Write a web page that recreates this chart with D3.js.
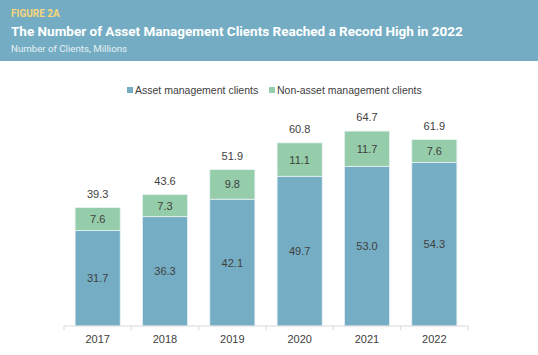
<!DOCTYPE html>
<html><head><meta charset="utf-8">
<script src="https://cdn.jsdelivr.net/npm/d3@7"></script>
<style>body{margin:0;background:#fff}svg{display:block}</style>
</head><body>
<svg id="c" width="538" height="355"></svg>
<script>
const years = ["2017","2018","2019","2020","2021","2022"];
const assetMgmt = [31.7, 36.3, 42.1, 49.7, 53.0, 54.3];
const nonAssetMgmt = [7.6, 7.3, 9.8, 11.1, 11.7, 7.6];
const totals = [39.3, 43.6, 51.9, 60.8, 64.7, 61.9];
const seriesNames = ["Asset management clients", "Non-asset management clients"];
const colors = ["#75aec4", "#95cca9"];

const svg = d3.select("#c");
// header band
svg.append("rect").attr("x",0).attr("y",0).attr("width",538).attr("height",61).attr("fill","#74adc3");
svg.append("text").attr("x",11).attr("y",17).attr("fill","#f6d67a").attr("font-family","Roboto").attr("font-weight","bold").attr("font-size",10).text("FIGURE 2A");
svg.append("text").attr("x",11).attr("y",35.5).attr("fill","#ffffff").attr("font-family","Roboto").attr("font-weight","bold").attr("font-size",13.5).text("The Number of Asset Management Clients Reached a Record High in 2022");
svg.append("text").attr("x",11).attr("y",51.5).attr("fill","#e6f0f4").attr("font-family","Roboto").attr("font-size",9.7).text("Number of Clients, Millions");

const x = d3.scaleBand().domain(years).range([64,468]).paddingInner(0.33).paddingOuter(0.165);
const y = d3.scaleLinear().domain([0,80]).range([326,85]);

const data = years.map((yr,i)=>({year:yr, a:assetMgmt[i], n:nonAssetMgmt[i], t:totals[i]}));
const stack = d3.stack().keys(["a","n"])(data);

const g = svg.append("g");
stack.forEach((s,si)=>{
  g.selectAll(null).data(s).enter().append("rect")
   .attr("x",d=>x(d.data.year)).attr("width",x.bandwidth())
   .attr("y",d=>y(d[1])).attr("height",d=>y(d[0])-y(d[1]))
   .attr("fill",colors[si]).attr("stroke","#e8f2f5").attr("stroke-width",0.8);
  g.selectAll(null).data(s).enter().append("text")
   .attr("x",d=>x(d.data.year)+x.bandwidth()/2).attr("y",d=>(y(d[0])+y(d[1]))/2+4)
   .attr("text-anchor","middle").attr("font-family","Liberation Sans, Arial").attr("font-size",11).attr("fill","#404040")
   .text(d=>(d[1]-d[0]).toFixed(1));
});
g.selectAll(null).data(data).enter().append("text")
 .attr("x",d=>x(d.year)+x.bandwidth()/2).attr("y",d=>y(d.t)-10)
 .attr("text-anchor","middle").attr("font-family","Liberation Sans, Arial").attr("font-size",11).attr("fill","#404040")
 .text(d=>d.t.toFixed(1));

// axis
const ax = svg.append("g").attr("transform","translate(0,326)");
ax.append("line").attr("x1",64).attr("x2",468).attr("stroke","#d9d9d9");
const bounds = [64].concat(years.map(yr=>x(yr)+x.bandwidth()+x.step()*x.paddingInner()/2));
bounds[bounds.length-1]=468;
ax.selectAll(null).data(bounds).enter().append("line")
  .attr("x1",d=>d).attr("x2",d=>d).attr("y1",0).attr("y2",4).attr("stroke","#d9d9d9");
ax.selectAll(null).data(years).enter().append("text")
  .attr("x",d=>x(d)+x.bandwidth()/2).attr("y",17).attr("text-anchor","middle")
  .attr("font-family","Liberation Sans, Arial").attr("font-size",11).attr("fill","#404040").text(d=>d);

// legend
const lg = svg.append("g");
const lx = [127, 269];
seriesNames.forEach((nm,i)=>{
  lg.append("rect").attr("x",lx[i]).attr("y",87).attr("width",6).attr("height",6).attr("fill",colors[i]);
  lg.append("text").attr("x",lx[i]+8).attr("y",94).attr("font-family","Liberation Sans, Arial").attr("font-size",10.5).attr("fill","#404040").text(nm);
});
</script>
</body></html>
